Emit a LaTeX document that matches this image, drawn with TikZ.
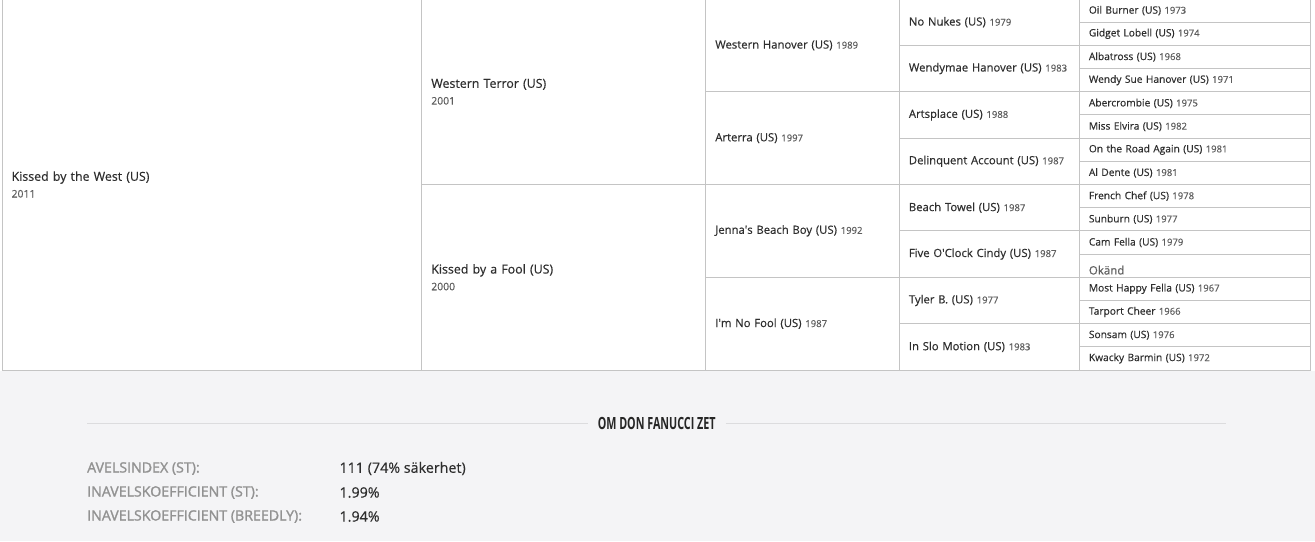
\documentclass[tikz,border=0pt]{standalone}
\usepackage{fontspec}
\setmainfont[FakeBold=0.4]{Open Sans}
\newfontfamily\headfont[FakeStretch=0.64]{Open Sans}
\newfontfamily\keyfont[FakeBold=1.5]{Open Sans}
\usetikzlibrary{positioning}

\definecolor{gridgray}{HTML}{C4C4C4}
\definecolor{namegray}{HTML}{2E2E2E}
\definecolor{yeargray}{HTML}{5E5E5E}
\definecolor{pagebg}{HTML}{F4F4F6}
\definecolor{keygray}{HTML}{929292}
\definecolor{rulegray}{HTML}{DCDCDE}

% year after the name, on the same line / on a line of its own
\newcommand{\yr}[1]{ {\fontsize{9.5}{12}\selectfont\color{yeargray}#1}}
\newcommand{\born}[1]{\\{\fontsize{10.4}{16.7}\selectfont\color{yeargray}#1}}

\tikzstyle{cell} = [rectangle, draw=gridgray, line width=1pt, fill=white, outer sep=0pt, inner xsep=9.6pt, inner ysep=0pt, align=left, text=namegray]
\tikzstyle{gen1} = [cell, minimum width=419.7pt, text width=400.5pt, minimum height=371pt, font=\fontsize{12.4}{16.7}\selectfont]
\tikzstyle{gen2} = [cell, minimum width=284pt, text width=264.8pt, minimum height=185.5pt, font=\fontsize{12.4}{16.7}\selectfont]
\tikzstyle{gen3} = [cell, minimum width=193.6pt, text width=174.4pt, minimum height=92.75pt, font=\fontsize{11.3}{14}\selectfont]
\tikzstyle{gen4} = [cell, minimum width=180pt, text width=160.8pt, minimum height=46.375pt, font=\fontsize{11.3}{14}\selectfont]
\tikzstyle{gen5} = [cell, minimum width=230.7pt, text width=211.5pt, minimum height=23.1875pt, font=\fontsize{10.2}{13}\selectfont]
\tikzstyle{headline} = [inner xsep=10pt, text=black!85, font=\headfont\bfseries\fontsize{16.8}{20}\selectfont]
\tikzstyle{rule} = [draw=rulegray, line width=1pt]
\tikzstyle{statkey} = [anchor=west, inner sep=0pt, text=keygray, font=\keyfont\fontsize{14.2}{17}\selectfont]
\tikzstyle{statval} = [anchor=west, inner sep=0pt, text=namegray, font=\fontsize{14.3}{17}\selectfont]

\begin{document}
\begin{tikzpicture}[x=1pt, y=-1pt]
\useasboundingbox (0,0) rectangle (1315,541);
\fill[pagebg] (0,370.5) rectangle (1315,541);

% Generations 1-3
\node (horse) [gen1, anchor=north west] at (2,-1) {Kissed by the West (US)\born{2011}};
\node (sire) [gen2, below right=0pt and 0pt of horse.north east] {Western Terror (US)\born{2001}};
\node (dam) [gen2, below=0pt of sire] {Kissed by a Fool (US)\born{2000}};
\node (ss) [gen3, below right=0pt and 0pt of sire.north east] {Western Hanover (US)\yr{1989}};
\node (sd) [gen3, below=0pt of ss] {Arterra (US)\yr{1997}};
\node (ds) [gen3, below=0pt of sd] {Jenna\textquotesingle s Beach Boy (US)\yr{1992}};
\node (dd) [gen3, below=0pt of ds] {I\textquotesingle m No Fool (US)\yr{1987}};

% Generation 4
\node (sss) [gen4, below right=0pt and 0pt of ss.north east] {No Nukes (US)\yr{1979}};
\node (ssd) [gen4, below=0pt of sss] {Wendymae Hanover (US)\yr{1983}};
\node (sds) [gen4, below=0pt of ssd] {Artsplace (US)\yr{1988}};
\node (sdd) [gen4, below=0pt of sds] {Delinquent Account (US)\yr{1987}};
\node (dss) [gen4, below=0pt of sdd] {Beach Towel (US)\yr{1987}};
\node (dsd) [gen4, below=0pt of dss] {Five O\textquotesingle Clock Cindy (US)\yr{1987}};
\node (dds) [gen4, below=0pt of dsd] {Tyler B. (US)\yr{1977}};
\node (ddd) [gen4, below=0pt of dds] {In Slo Motion (US)\yr{1983}};

% Generation 5
\node (ssss) [gen5, below right=0pt and 0pt of sss.north east] {Oil Burner (US)\yr{1973}};
\node (sssd) [gen5, below=0pt of ssss] {Gidget Lobell (US)\yr{1974}};
\node (ssds) [gen5, below=0pt of sssd] {Albatross (US)\yr{1968}};
\node (ssdd) [gen5, below=0pt of ssds] {Wendy Sue Hanover (US)\yr{1971}};
\node (sdss) [gen5, below=0pt of ssdd] {Abercrombie (US)\yr{1975}};
\node (sdsd) [gen5, below=0pt of sdss] {Miss Elvira (US)\yr{1982}};
\node (sdds) [gen5, below=0pt of sdsd] {On the Road Again (US)\yr{1981}};
\node (sddd) [gen5, below=0pt of sdds] {Al Dente (US)\yr{1981}};
\node (dsss) [gen5, below=0pt of sddd] {French Chef (US)\yr{1978}};
\node (dssd) [gen5, below=0pt of dsss] {Sunburn (US)\yr{1977}};
\node (dsds) [gen5, below=0pt of dssd] {Cam Fella (US)\yr{1979}};
\node (dsdd) [gen5, below=0pt of dsds] {\raisebox{-4.5pt}[\height][\depth]{\fontsize{11.5}{14}\selectfont\color{yeargray}Okänd}};
\node (ddss) [gen5, below=0pt of dsdd] {Most Happy Fella (US)\yr{1967}};
\node (ddsd) [gen5, below=0pt of ddss] {Tarport Cheer\yr{1966}};
\node (ddds) [gen5, below=0pt of ddsd] {Sonsam (US)\yr{1976}};
\node (dddd) [gen5, below=0pt of ddds] {Kwacky Barmin (US)\yr{1972}};

% About section
\node (title) [headline] at (656.7,423.3) {OM DON FANUCCI ZET};
\coordinate (ruleL) at (87,423.3);
\coordinate (ruleR) at (1226,423.3);
\draw[rule] (ruleL) -- (title);
\draw[rule] (title) -- (ruleR);

\node (idxkey) [statkey] at (87,468.5) {AVELSINDEX (ST):};
\node (idxval) [statval] at (339.3,468.5) {111 (74\% säkerhet)};
\node (inbstkey) [statkey] at (87,492.5) {INAVELSKOEFFICIENT (ST):};
\node (inbstval) [statval] at (339.3,492.5) {1.99\%};
\node (inbbrkey) [statkey] at (87,516.5) {INAVELSKOEFFICIENT (BREEDLY):};
\node (inbbrval) [statval] at (339.3,516.5) {1.94\%};

\end{tikzpicture}
\end{document}
